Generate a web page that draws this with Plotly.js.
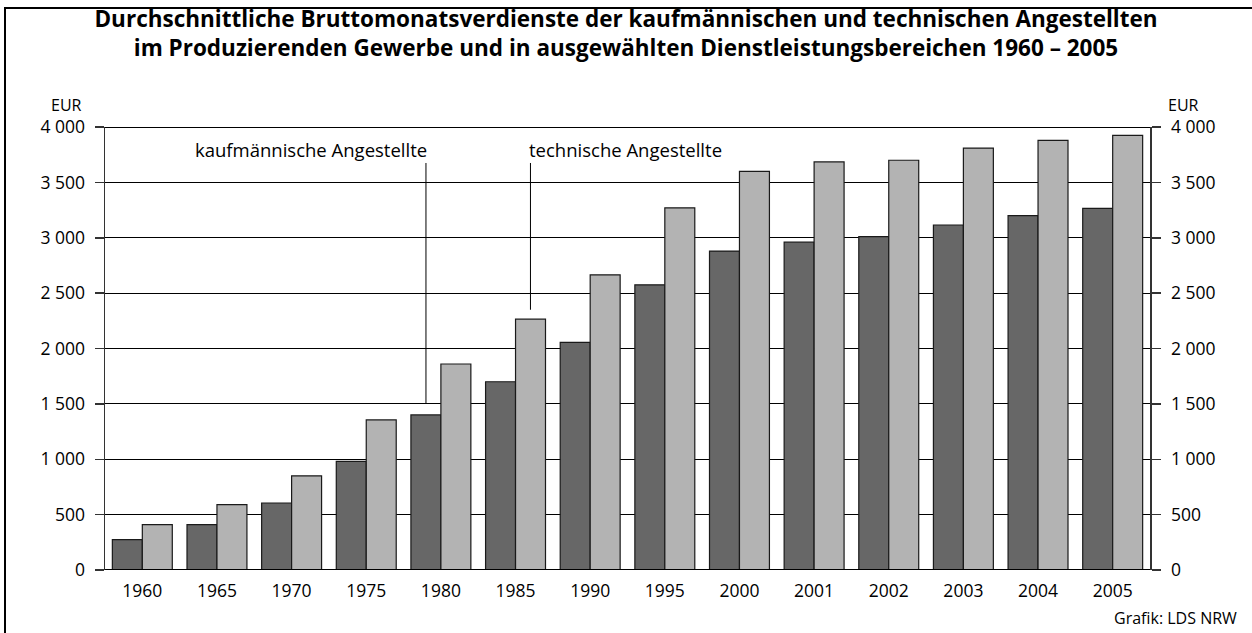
<!DOCTYPE html>
<html>
<head>
<meta charset="utf-8">
<script src="https://cdn.plot.ly/plotly-3.0.1.min.js"></script>
<style>
  html, body { margin: 0; padding: 0; background: #fff; }
  #chart { width: 1252px; height: 633px; position: absolute; left: 0; top: 0; }
  #frame { position: absolute; left: 4px; top: 7px; width: 1260px; height: 700px;
           border-left: 2px solid #000; border-top: 2px solid #000; pointer-events: none; }
</style>
</head>
<body>
<div id="chart"></div>
<div id="frame"></div>
<script>
const years = ["1960","1965","1970","1975","1980","1985","1990","1995","2000","2001","2002","2003","2004","2005"];
const kaufmaennisch = [275, 410, 605, 980, 1400, 1700, 2055, 2575, 2880, 2960, 3010, 3115, 3200, 3265];
const technisch = [410, 590, 850, 1355, 1860, 2265, 2665, 3270, 3600, 3685, 3700, 3810, 3880, 3925];
const yTicks = [0, 500, 1000, 1500, 2000, 2500, 3000, 3500, 4000];
const yTickText = ["0", "500", "1 000", "1 500", "2 000", "2 500", "3 000", "3 500", "4 000"];

const FONT = "Open Sans, Noto Sans, sans-serif";

const traces = [
  { type: "bar", name: "kaufmännische Angestellte", x: years, y: kaufmaennisch,
    marker: { color: "#676767", line: { color: "#1a1a1a", width: 1.2 } }, hoverinfo: "x+y" },
  { type: "bar", name: "technische Angestellte", x: years, y: technisch,
    marker: { color: "#b3b3b3", line: { color: "#1a1a1a", width: 1.2 } }, hoverinfo: "x+y" },
  { type: "scatter", mode: "lines", x: [years[0]], y: [null], yaxis: "y2",
    showlegend: false, hoverinfo: "skip", line: { width: 0 } }
];

const layout = {
  width: 1252, height: 633,
  margin: { l: 105, r: 102, t: 127, b: 63, pad: 0 },
  paper_bgcolor: "#fff", plot_bgcolor: "#fff",
  showlegend: false,
  barmode: "group", bargap: 0.197, bargroupgap: 0,
  font: { family: FONT, size: 17, color: "#000" },
  title: {
    text: "<b>Durchschnittliche Bruttomonatsverdienste der kaufmännischen und technischen Angestellten<br>im Produzierenden Gewerbe und in ausgewählten Dienstleistungsbereichen 1960 – 2005</b>",
    font: { family: FONT, size: 22.5, color: "#000" },
    x: 0.5, xref: "container", xanchor: "center",
    y: 1 - 27 / 633, yref: "container", yanchor: "top"
  },
  xaxis: {
    type: "category", showgrid: false, zeroline: false,
    showline: false, ticks: "", tickfont: { family: FONT, size: 17.5, color: "#000" },
    ticklabelstandoff: 8
  },
  yaxis: {
    range: [0, 4000], tickvals: yTicks, ticktext: yTickText,
    showgrid: true, gridcolor: "#000", gridwidth: 1,
    zeroline: false, showline: true, linecolor: "#333", linewidth: 1.5,
    ticks: "outside", ticklen: 9, tickcolor: "#333", tickwidth: 1.5,
    tickfont: { family: FONT, size: 17.5, color: "#000" }, ticklabelstandoff: 6,
    fixedrange: true
  },
  yaxis2: {
    overlaying: "y", side: "right", range: [0, 4000], tickvals: yTicks, ticktext: yTickText,
    showgrid: false, zeroline: false, showline: true, linecolor: "#333", linewidth: 1.5,
    ticks: "outside", ticklen: 9, tickcolor: "#333", tickwidth: 1.5,
    tickfont: { family: FONT, size: 17.5, color: "#000" }, ticklabelstandoff: 7,
    fixedrange: true
  },
  shapes: [
    { type: "line", xref: "paper", yref: "y", x0: 0, x1: 1, y0: 4000, y1: 4000,
      line: { color: "#000", width: 2 }, layer: "above" },
    { type: "line", xref: "paper", yref: "y", x0: 0, x1: 1, y0: 0, y1: 0,
      line: { color: "#000", width: 2 }, layer: "above" },
    { type: "line", xref: "x", yref: "y", x0: 3.8, x1: 3.8, y0: 3675, y1: 1500,
      line: { color: "#000", width: 1 } },
    { type: "line", xref: "x", yref: "y", x0: 5.2, x1: 5.2, y0: 3675, y1: 2350,
      line: { color: "#000", width: 1 } }
  ],
  annotations: [
    { text: "kaufmännische Angestellte", xref: "x", yref: "y", x: 3.84, y: 3800,
      xanchor: "right", yanchor: "middle", showarrow: false,
      font: { family: FONT, size: 18.5, color: "#000" } },
    { text: "technische Angestellte", xref: "x", yref: "y", x: 5.16, y: 3800,
      xanchor: "left", yanchor: "middle", showarrow: false,
      font: { family: FONT, size: 18.5, color: "#000" } },
    { text: "EUR", xref: "paper", yref: "paper", x: (66 - 105) / 1045, y: (570 - 105) / 443,
      xanchor: "center", yanchor: "middle", showarrow: false,
      font: { family: FONT, size: 16, color: "#000" } },
    { text: "EUR", xref: "paper", yref: "paper", x: (1183 - 105) / 1045, y: (570 - 105) / 443,
      xanchor: "center", yanchor: "middle", showarrow: false,
      font: { family: FONT, size: 16, color: "#000" } },
    { text: "Grafik: LDS NRW", xref: "paper", yref: "paper", x: (1239 - 105) / 1045, y: (570 - 618) / 443,
      xanchor: "right", yanchor: "middle", showarrow: false,
      font: { family: FONT, size: 16, color: "#000" } }
  ]
};

Plotly.newPlot("chart", traces, layout, { displayModeBar: false, staticPlot: true });
</script>
</body>
</html>
